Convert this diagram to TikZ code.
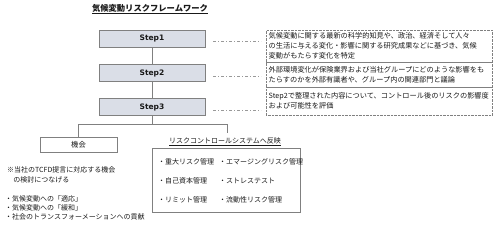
\documentclass[tikz,border=0pt]{standalone}
\usepackage{fontspec}
\setmainfont{Noto Sans CJK JP}
\newfontfamily\stepfont{DejaVu Sans}
\usetikzlibrary{calc}
\definecolor{linegray}{RGB}{128,128,128}
\definecolor{stepfill}{RGB}{218,222,231}
\definecolor{txt}{RGB}{25,25,25}
\begin{document}
\begin{tikzpicture}[x=1pt,y=-1pt,
  every node/.style={text=txt},
  stepbox/.style={draw=linegray, fill=stepfill, minimum width=106pt, minimum height=17pt, inner sep=0pt, font=\stepfont\bfseries\fontsize{7.5}{9}\selectfont},
  descbox/.style={draw=linegray, densely dotted, anchor=north west, minimum width=226pt, text width=221pt, align=left, inner sep=0pt, inner xsep=2.5pt, font=\fontsize{7.2}{10}\selectfont},
  conn/.style={draw=linegray, line width=0.6pt},
  dashdot/.style={draw=linegray!80, line width=0.5pt, dash pattern=on 3pt off 2pt on 1pt off 2pt},
  item/.style={anchor=west, inner sep=0pt, font=\fontsize{7}{9}\selectfont},
  note/.style={anchor=north west, align=left, inner sep=0pt, font=\fontsize{7}{10}\selectfont}
]
\useasboundingbox (0,0) rectangle (495,227);

% title
\node[font=\bfseries\fontsize{8.3}{10}\selectfont] (title) at (150,9) {\underline{気候変動リスクフレームワーク}};

% steps
\node[stepbox] (s1) at (152,38.5) {Step1};
\node[stepbox] (s2) at (152,73) {Step2};
\node[stepbox] (s3) at (152,107) {Step3};
\draw[conn] (s1.south) -- (s2.north);
\draw[conn] (s2.south) -- (s3.north);

% descriptions
\node[descbox, minimum height=32pt] (t1) at (266,30) {気候変動に関する最新の科学的知見や、政治、経済そして人々\\の生活に与える変化・影響に関する研究成果などに基づき、気候\\変動がもたらす変化を特定};
\node[descbox, minimum height=25pt] (t2) at (266,62) {外部環境変化が保険業界および当社グループにどのような影響をも\\たらすのかを外部有識者や、グループ内の関連部門と議論};
\node[descbox, minimum height=28pt] (t3) at (266,87) {Step2で整理された内容について、コントロール後のリスクの影響度\\および可能性を評価};

\draw[dashdot] ($(s1.east)+(8,3)$) -- ($(s1.east)+(56,3)$);
\draw[dashdot] ($(s2.east)+(8,3)$) -- ($(s2.east)+(56,3)$);
\draw[dashdot] ($(s3.east)+(8,3)$) -- ($(s3.east)+(56,3)$);

% tree below
\coordinate (split) at (152,124);
\coordinate (rcend) at (227,133);
\node[draw=linegray, line width=0.6pt, minimum width=77pt, minimum height=15pt, inner sep=0pt, font=\fontsize{7.3}{9}\selectfont] (kikai) at (78.5,144.5) {機会};
\draw[conn] (s3.south) -- (split);
\draw[conn] (kikai.north) |- (split);
\draw[conn] (split) -| (rcend);

\node[font=\fontsize{7}{9}\selectfont, inner sep=0pt] (rclabel) at (225,141.5) {\underline{リスクコントロールシステムへ反映}};

\node[draw=linegray, line width=0.6pt, anchor=north west, minimum width=148pt, minimum height=64pt, inner sep=0pt] (rbox) at (152,148) {};
\node[item] (r1) at (158,162) {・重大リスク管理};
\node[item] (r2) at (158,181) {・自己資本管理};
\node[item] (r3) at (158,199.5) {・リミット管理};
\node[item] (r4) at (219,162) {・エマージングリスク管理};
\node[item] (r5) at (219,181) {・ストレステスト};
\node[item] (r6) at (219,199.5) {・流動性リスク管理};

% left notes
\node[note] (n1) at (7,166) {※当社のTCFD提言に対応する機会\\\hspace{0.9em}の検討につなげる};
\node[note, font=\fontsize{7}{9.2}\selectfont] (n2) at (5,195) {・気候変動への「適応」\\・気候変動への「緩和」\\・社会のトランスフォーメーションへの貢献};
\end{tikzpicture}
\end{document}
